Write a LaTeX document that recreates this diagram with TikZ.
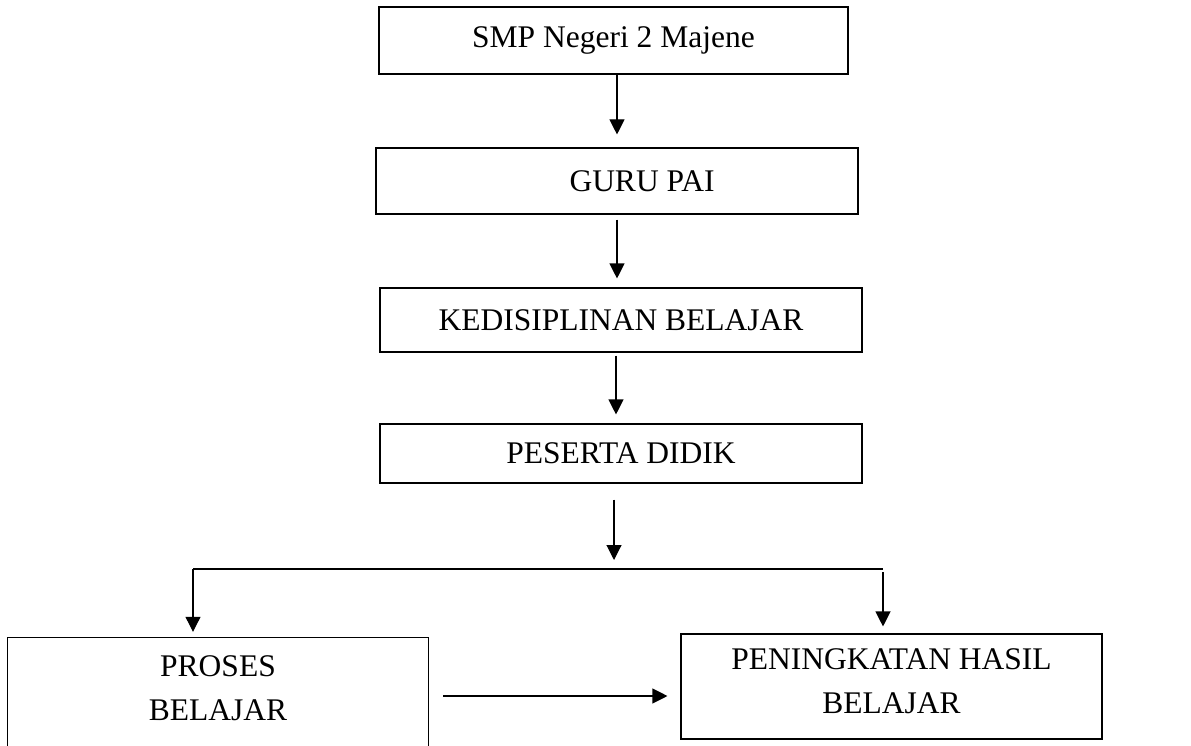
\documentclass[tikz,border=0pt]{standalone}
\usepackage{fontspec}
\setmainfont{Liberation Serif}
\usetikzlibrary{arrows.meta}
\begin{document}
\begin{tikzpicture}[x=1pt,y=-1pt,
  box/.style={draw,line width=1.1pt,rectangle,inner sep=0pt,align=center,
    font=\fontsize{31.5}{44}\selectfont},
  openbox/.style={rectangle,inner sep=0pt,align=center,
    font=\fontsize{31.5}{44}\selectfont},
  arr/.style={line width=1.1pt,-{Triangle[width=15pt,length=15pt]}},
  ln/.style={line width=1.1pt}]
\useasboundingbox (0,0) rectangle (1191,746);
\node[box,minimum width=469pt,minimum height=67pt] (b1) at (613.5,40.5) {SMP Negeri 2 Majene};
\node[box,minimum width=482pt,minimum height=66pt] (b2) at (617,181) {\hspace*{50pt}GURU PAI};
\node[box,minimum width=482pt,minimum height=64pt] (b3) at (621,320) {KEDISIPLINAN BELAJAR};
\node[box,minimum width=482pt,minimum height=59pt] (b4) at (621,453.5) {PESERTA DIDIK};
\node[openbox,minimum width=420pt,minimum height=108pt,text depth=8pt] (pb) at (218,692) {PROSES\\BELAJAR};
\draw[ln] (pb.south west) -- (pb.north west) -- (pb.north east) -- (pb.south east);
\node[box,minimum width=421pt,minimum height=105pt,text depth=10pt] (hb) at (891.5,686.5) {PENINGKATAN HASIL\\BELAJAR};
\coordinate (a4end) at (614,560);
\coordinate (bl) at (193,569);
\coordinate (br) at (883,569);
\coordinate (hy) at (0,696);
\draw[arr,shorten >=13pt] ([xshift=3.5pt]b1.south) -- ([xshift=0pt]b2.north);
\draw[arr,shorten <=5pt,shorten >=9pt] (b2.south) -- (b3.north -| b2.south);
\draw[arr,shorten <=3pt,shorten >=9pt] ([xshift=-5pt]b3.south) -- ([xshift=-5pt]b4.north);
\draw[arr,shorten <=16pt] ([xshift=-7pt]b4.south) -- (a4end);
\draw[ln] (bl) -- (br);
\draw[arr,shorten >=6pt] (bl) -- (bl |- pb.north);
\draw[arr,shorten >=7pt] ([yshift=-3pt]br) -- (br |- hb.north);
\draw[arr,shorten <=15pt,shorten >=13pt] (pb.east |- hy) -- (hb.west |- hy);
\end{tikzpicture}
\end{document}
